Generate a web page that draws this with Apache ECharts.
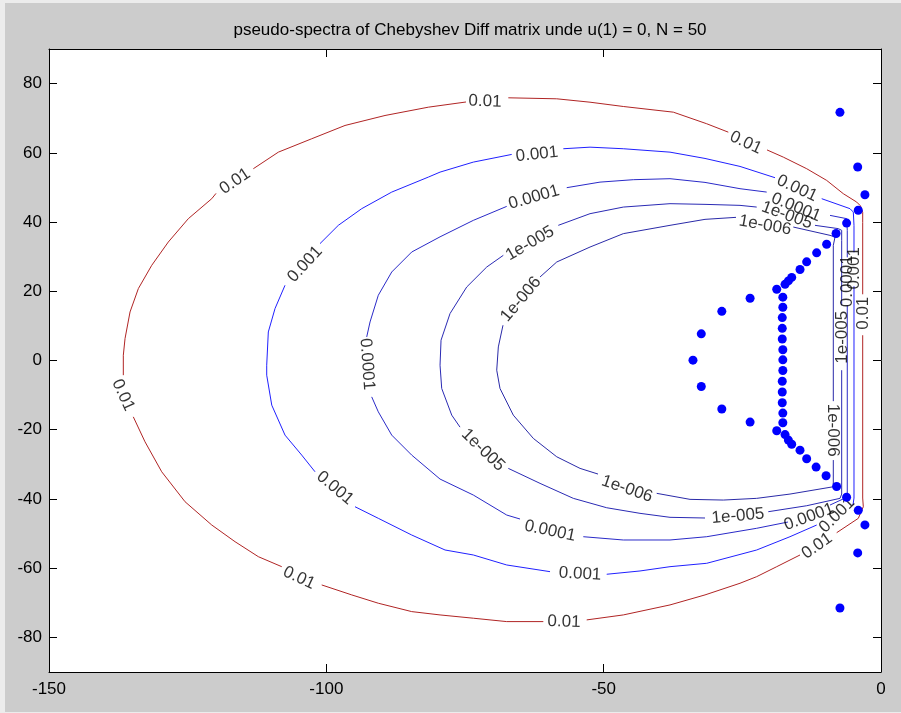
<!DOCTYPE html>
<html>
<head>
<meta charset="utf-8">
<script src="https://cdn.jsdelivr.net/npm/echarts@6/dist/echarts.min.js"></script>
<style>
  html, body { margin: 0; padding: 0; background: #cccccc; overflow: hidden; }
  .edge { position: absolute; background: #ececec; }
  #chart { position: absolute; left: 5px; top: 3px; width: 896px; height: 709px; }
</style>
</head>
<body>
<div class="edge" style="left:0;top:0;width:901px;height:3px"></div>
<div class="edge" style="left:0;top:0;width:5px;height:713px"></div>
<div class="edge" style="left:0;top:712px;width:901px;height:1px"></div>
<div id="chart"></div>
<script>
// Axis ticks
const xTicks = [-150, -100, -50, 0];
const yTicks = [-80, -60, -40, -20, 0, 20, 40, 60, 80];

// Eigenvalues of the Chebyshev differentiation matrix (real, imaginary parts)
const eigRe = [
  -7.4, -4.2, -2.9,
  -4.1, -6.2, -8.1, -9.8, -11.6, -13.4, -14.6, -16.1, -16.7, -17.3, -18.8,
  -17.7, -17.7, -17.8, -17.8, -17.8, -17.7, -17.7, -17.7, -17.8, -17.8, -17.8, -17.7, -17.7,
  -18.8, -17.3, -16.7, -16.1, -14.6, -13.4, -11.7, -9.9, -8.0, -6.2, -4.1,
  -2.9, -4.2, -7.4,
  -23.6, -28.7, -32.4, -33.9, -32.4, -28.7, -23.6
];
const eigIm = [
  71.7, 55.9, 47.9,
  43.4, 39.7, 36.7, 33.6, 31.1, 28.5, 26.3, 24.0, 23.0, 22.0, 20.6,
  18.3, 15.4, 12.4, 9.3, 6.2, 3.1, 0.2, -2.9, -6.0, -9.1, -12.2, -15.2, -18.0,
  -20.3, -21.4, -23.0, -24.2, -25.9, -28.4, -30.8, -33.3, -36.4, -39.5, -43.3,
  -47.5, -55.6, -71.5,
  18.0, 14.2, 7.7, 0.1, -7.5, -14.0, -17.8
];

// Contour levels of the smallest singular value; each level is a list of
// polyline pieces (the breaks leave room for the inline level labels)
const levelValues = [0.01, 0.001, 0.0001, 1e-5, 1e-6];

const contour1e2 = [
  [[-3.30,39.91],[-3.30,42.80],[-3.70,44.68],[-4.38,45.77],[-6.80,48.20],[-9.79,52.03],[-13.39,55.41],[-17.61,58.76],[-20.55,60.84]],
  [[-27.53,65.97],[-31.42,68.40],[-37.44,71.75],[-46.46,73.39],[-52.46,74.63],[-58.46,75.61],[-67.19,75.90]],
  [[-74.82,74.69],[-81.61,73.19],[-89.42,70.79],[-96.63,67.91],[-102.63,64.07],[-108.65,60.20],[-113.16,55.41]],
  [[-119.89,48.28],[-120.66,46.75],[-124.88,40.98],[-128.49,34.23],[-131.48,27.50],[-133.89,20.78],[-135.39,14.03],[-136.29,6.35],[-136.60,1.53],[-136.60,-4.24]],
  [[-134.80,-16.28],[-132.69,-23.49],[-129.68,-32.15],[-125.47,-40.81],[-120.66,-47.53],[-116.46,-52.35],[-112.26,-56.68],[-108.04,-59.57]],
  [[-100.83,-64.85],[-95.42,-67.73],[-90.63,-70.13],[-84.61,-72.55],[-79.50,-73.51],[-73.50,-74.46],[-67.48,-75.44],[-60.88,-75.44]],
  [[-53.06,-74.95],[-46.46,-73.51],[-38.04,-70.62],[-31.73,-67.73],[-25.42,-64.36],[-22.41,-62.45],[-18.80,-59.57],[-14.60,-56.19]],
  [[-7.99,-49.75],[-4.09,-45.60],[-3.19,-42.25],[-3.30,-39.74],[-3.30,7.30]],
  [[-3.30,19.13],[-3.30,39.91]]
];

const contour1e3 = [
  [[-4.87,31.26],[-4.87,39.05],[-4.99,42.89],[-5.59,43.87],[-10.69,46.75]],
  [[-19.11,52.81],[-25.42,56.07],[-31.73,58.38],[-38.04,60.20],[-46.46,61.18],[-52.46,61.64],[-57.27,61.18]],
  [[-66.58,59.54],[-73.50,57.32],[-79.50,54.43],[-81.61,52.99],[-88.21,48.66],[-93.62,43.87],[-97.84,39.05],[-101.14,33.77]],
  [[-107.45,21.73],[-109.25,15.01],[-110.46,8.25],[-110.75,-1.36],[-110.75,-4.24],[-109.84,-12.90],[-107.45,-21.56],[-104.44,-27.33],[-102.04,-32.15]],
  [[-94.83,-42.25],[-90.63,-45.60],[-84.61,-50.42],[-78.60,-54.75],[-73.50,-56.19],[-67.48,-59.08],[-59.67,-61.01]],
  [[-49.45,-61.76],[-43.45,-60.81],[-38.04,-59.57],[-31.42,-58.59],[-22.41,-54.75],[-16.41,-50.91],[-11.59,-47.53]],
  [[-5.05,-41.76],[-4.87,-39.74],[-4.87,21.44]]
];

const contour1e4 = [
  [[-6.08,29.81],[-6.08,37.61],[-6.18,40.98],[-9.19,41.93]],
  [[-20.61,48.66],[-25.42,49.64],[-31.73,51.46],[-38.04,52.53],[-44.66,52.24],[-50.66,51.54],[-56.66,49.93]],
  [[-67.48,44.53],[-73.50,40.49],[-79.50,35.73],[-84.61,31.34],[-88.21,25.57],[-90.63,18.85],[-92.12,11.14],[-92.72,6.81]],
  [[-91.82,-10.51],[-90.63,-14.83],[-88.21,-21.56],[-84.61,-27.33],[-79.50,-34.26],[-73.50,-38.87],[-67.48,-44.65],[-65.08,-45.80]],
  [[-53.67,-50.91],[-46.46,-51.86],[-38.04,-51.86],[-31.42,-50.91],[-22.41,-48.48],[-16.77,-46.67]],
  [[-9.19,-41.76],[-6.08,-39.45],[-6.08,15.96]]
];

const contour1e5 = [
  [[-7.09,15.96],[-7.09,34.72],[-7.09,37.61],[-7.70,38.10],[-11.90,39.05]],
  [[-22.41,44.33],[-25.42,44.82],[-31.73,45.11],[-38.04,45.31],[-46.46,44.33],[-52.46,42.42],[-58.18,39.05]],
  [[-68.09,30.39],[-71.08,27.01],[-74.69,21.24],[-77.70,13.56],[-79.32,5.86],[-79.50,-1.36],[-79.20,-8.08],[-77.39,-15.79],[-75.90,-19.25]],
  [[-67.19,-31.17],[-61.47,-35.50],[-55.47,-39.83],[-49.45,-42.54],[-43.45,-44.16],[-38.04,-45.31],[-31.73,-45.51]],
  [[-20.32,-43.69],[-13.39,-41.96],[-7.39,-39.83],[-7.09,-38.59],[-7.09,-2.80]]
];

const contour1e6 = [
  [[-8.60,-11.75],[-8.60,33.28],[-8.29,35.67],[-9.19,36.16],[-15.81,38.56]],
  [[-26.14,41.36],[-31.73,40.78],[-38.04,39.05],[-46.46,36.65],[-52.46,32.78],[-58.46,28.46],[-61.47,24.13]],
  [[-68.15,10.19],[-68.99,3.92],[-69.28,-2.80],[-68.69,-8.08],[-66.29,-15.79],[-62.68,-22.51],[-58.46,-27.82],[-54.26,-31.17],[-51.02,-32.81]],
  [[-40.44,-38.38],[-34.43,-40.12],[-28.43,-40.32],[-22.41,-39.83],[-16.41,-38.59],[-8.60,-36.48],[-8.60,-28.77]]
];

// Inline contour labels: anchor point and text
const labelPos = [
  [-71.39,74.83],[-24.39,62.91],[-116.46,51.75],[-136.65,-10.01],[-104.92,-62.83],[-57.15,-75.53],[-11.54,-53.59],[-3.25,13.65],
  [-62.02,59.54],[-15.14,49.73],[-103.84,27.79],[-98.43,-36.85],[-54.26,-61.67],[-7.93,-44.65],[-4.87,26.64],
  [-62.56,47.13],[-15.32,44.24],[-92.66,-1.07],[-59.67,-49.26],[-12.98,-45.22],[-6.13,22.89],
  [-63.28,33.85],[-16.95,41.93],[-71.75,-25.89],[-25.78,-44.94],[-7.03,6.72],
  [-64.90,17.69],[-20.91,39.05],[-45.79,-37.14],[-8.65,-20.12]
];
const labelText = [
  '0.01','0.01','0.01','0.01','0.01','0.01','0.01','0.01',
  '0.001','0.001','0.001','0.001','0.001','0.001','0.001',
  '0.0001','0.0001','0.0001','0.0001','0.0001','0.0001',
  '1e-005','1e-005','1e-005','1e-005','1e-005',
  '1e-006','1e-006','1e-006','1e-006'
];

// Label orientation along the curve (degrees, counter-clockwise)
const labelAngle = [
  -2, -25, 34, -66, -25, -2, 35, 90,
  6, -25, 47, -40, -3, 45, 90,
  16, -22, -86, -12, 20, 90,
  30, -20, -44, 5, 90,
  50, -10, -19, -90
];

const FONT = '"Liberation Sans", Arial, Helvetica, sans-serif';
const levelColors = ['#b02424', '#2020ff', '#2a2ac8', '#2a2ab4', '#2a2aa8'];
const contours = [contour1e2, contour1e3, contour1e4, contour1e5, contour1e6];

function joinPieces(pieces) {
  const out = [];
  pieces.forEach((p, i) => {
    if (i > 0) out.push(['-', '-']);
    p.forEach(pt => out.push(pt));
  });
  return out;
}

const series = contours.map((pieces, i) => ({
  name: String(levelValues[i]),
  type: 'line',
  data: joinPieces(pieces),
  showSymbol: false,
  symbol: 'none',
  connectNulls: false,
  smooth: false,
  silent: true,
  lineStyle: { color: levelColors[i], width: 1 },
  z: 2
}));

series.push({
  name: 'labels',
  type: 'scatter',
  symbolSize: 0,
  silent: true,
  z: 3,
  data: labelPos.map((p, i) => ({
    value: p,
    label: {
      show: true,
      position: 'inside',
      formatter: labelText[i],
      rotate: labelAngle[i],
      align: 'center',
      verticalAlign: 'middle',
      color: '#000',
      fontSize: 17,
      fontFamily: FONT
    }
  }))
});

series.push({
  name: 'eigenvalues',
  type: 'scatter',
  symbol: 'circle',
  symbolSize: 9,
  silent: true,
  z: 4,
  itemStyle: { color: '#0000ff', opacity: 1 },
  data: eigRe.map((re, i) => [re, eigIm[i]])
});

const tickStyle = { inside: true, length: 8, lineStyle: { color: '#000' } };
const lineStyle = { show: true, onZero: false, lineStyle: { color: '#000', width: 1 } };
const labelStyle = { color: '#000', fontSize: 17, fontFamily: FONT };

const chart = echarts.init(document.getElementById('chart'), null, { renderer: 'canvas' });
chart.setOption({
  animation: false,
  backgroundColor: '#cccccc',
  title: {
    text: 'pseudo-spectra of Chebyshev Diff matrix unde u(1) = 0, N = 50',
    left: 460,
    textAlign: 'center',
    top: 14,
    textStyle: { color: '#000', fontSize: 17, fontWeight: 'normal', fontFamily: FONT }
  },
  grid: {
    left: 44, right: 20, top: 46, bottom: 40,
    show: true, backgroundColor: '#ffffff', borderWidth: 0
  },
  xAxis: [
    {
      type: 'value', position: 'bottom', min: -150, max: 0, interval: 50,
      axisLine: lineStyle, axisTick: tickStyle, splitLine: { show: false },
      axisLabel: Object.assign({ margin: 9, showMinLabel: true, showMaxLabel: true }, labelStyle)
    },
    {
      type: 'value', position: 'top', min: -150, max: 0, interval: 50,
      axisLine: lineStyle, axisTick: tickStyle, splitLine: { show: false },
      axisLabel: { show: false }
    }
  ],
  yAxis: [
    {
      type: 'value', position: 'left', min: -90, max: 90,
      axisLine: lineStyle,
      axisTick: Object.assign({ customValues: yTicks }, tickStyle),
      splitLine: { show: false },
      axisLabel: Object.assign({ margin: 7, customValues: yTicks }, labelStyle)
    },
    {
      type: 'value', position: 'right', min: -90, max: 90,
      axisLine: lineStyle,
      axisTick: Object.assign({ customValues: yTicks }, tickStyle),
      splitLine: { show: false },
      axisLabel: { show: false }
    }
  ],
  series: series
});
</script>
</body>
</html>
